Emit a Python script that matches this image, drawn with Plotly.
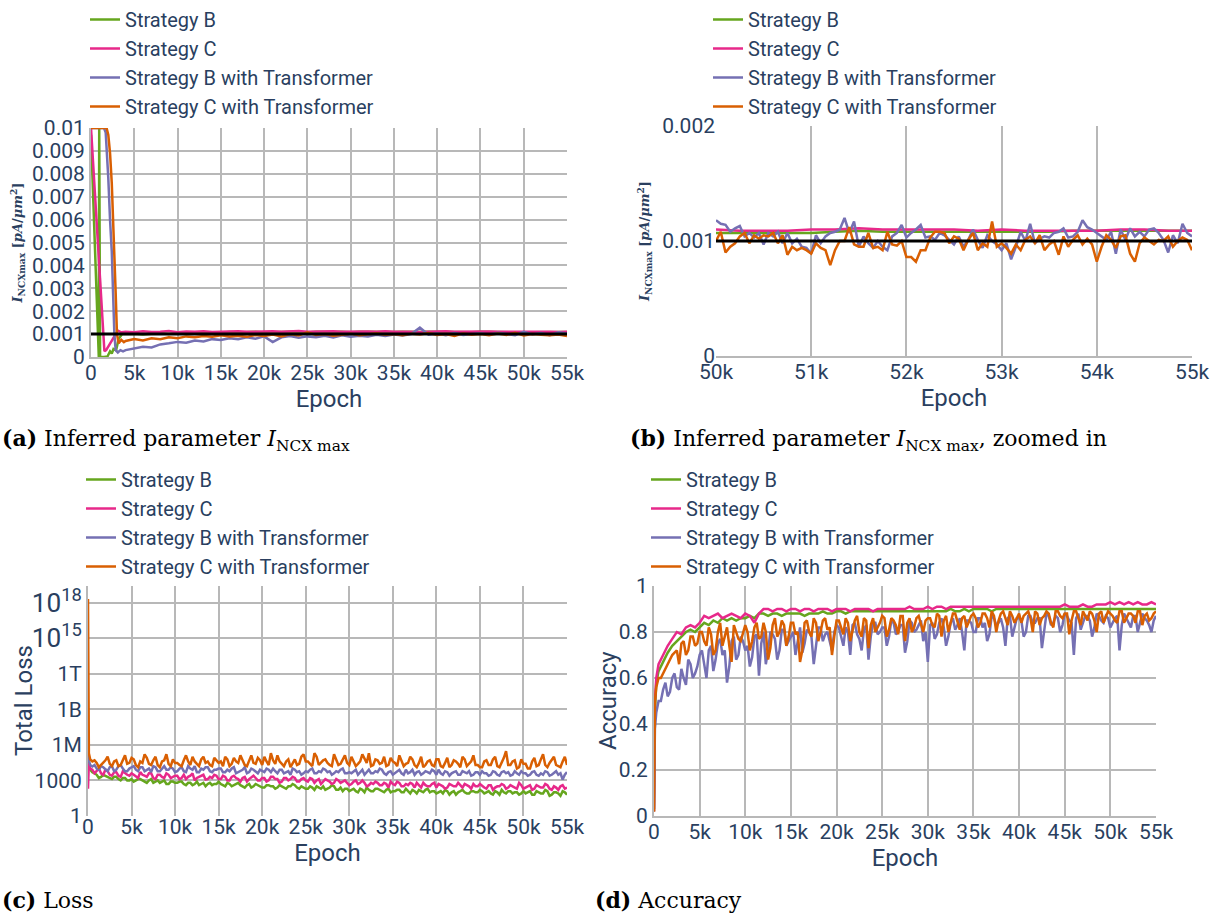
import plotly.graph_objects as go

# ---------------- data ----------------
NAMES = ["Strategy B", "Strategy C", "Strategy B with Transformer", "Strategy C with Transformer"]
COLORS = ["#66a61e", "#e7298a", "#7570b3", "#d95f02"]
TRUE_NCX = 0.001          # reference value (black line), pA/um^2
UNIT = 1e-3               # NCX arrays below are in units of 1e-3 pA/um^2

# (a) inferred parameter, full run
late_a = list(range(4000, 55001, 1000))
epoch_a_b = [0, 900, 950, 1050, 1500, 1900, 2200, 2400, 2600, 2900, 3200, 3600] + late_a
ncx_a_b = [9.7, 0.0, 10.0, 0.0, 0.0, 0.02, 0.25, 0.15, 0.35, 0.3, 0.8, 1.0,
           1.0, 1.02, 0.98, 1.03, 1.05, 1.0, 1.06, 1.04, 1.07, 1.05, 1.08, 1.06, 1.09, 1.07, 1.08, 1.1,
           1.07, 1.09, 1.08, 1.1, 1.09, 1.07, 1.1, 1.08, 1.09, 1.1, 1.08, 1.1, 1.09, 1.08, 1.1, 1.09,
           1.1, 1.08, 1.09, 1.1, 1.09, 1.08, 1.1, 1.09, 1.08, 1.1, 1.09, 1.1, 1.08, 1.09, 1.07, 1.08,
           1.08, 1.08, 1.09, 1.09]
epoch_a_c = [0, 1550, 1750, 2000, 2300, 2700, 3100, 3500] + late_a
ncx_a_c = [10.0, 0.25, 0.3, 0.45, 0.6, 0.9, 1.15, 1.08,
           1.1, 1.08, 1.12, 1.09, 1.1, 1.13, 1.08, 1.11, 1.1, 1.12, 1.09, 1.11, 1.1, 1.12, 1.1, 1.11,
           1.09, 1.12, 1.1, 1.11, 1.13, 1.1, 1.11, 1.1, 1.12, 1.1, 1.11, 1.09, 1.11, 1.1, 1.12, 1.1,
           1.11, 1.1, 1.09, 1.11, 1.1, 1.12, 1.1, 1.11, 1.09, 1.1, 1.11, 1.1, 1.09, 1.11, 1.1, 1.1,
           1.11, 1.1, 1.09, 1.1]
epoch_a_bt = [0, 1500, 1700, 1850, 2000, 2200, 2400, 2550, 2700, 2850, 3100, 3400, 3700] + late_a
ncx_a_bt = [10.0, 10.0, 9.8, 8.9, 7.8, 6.0, 4.6, 2.8, 1.0, 0.3, 0.2, 0.3, 0.25,
            0.3, 0.38, 0.45, 0.42, 0.55, 0.6, 0.66, 0.62, 0.72, 0.68, 0.78, 0.74, 0.82, 0.78, 0.86, 0.8,
            0.9, 0.65, 0.86, 0.92, 0.84, 0.9, 0.86, 0.93, 0.85, 0.95, 0.88, 0.93, 0.9, 0.97, 0.92, 0.98,
            0.94, 1.0, 1.28, 0.97, 1.02, 0.95, 1.05, 0.96, 1.0, 1.04, 0.97, 1.06, 1.0, 0.95, 1.1, 0.98,
            1.05, 0.95, 1.08, 1.02]
epoch_a_ct = [0, 1800, 2000, 2200, 2400, 2550, 2700, 2850, 3000, 3200, 3500, 3800] + late_a
ncx_a_ct = [10.0, 10.0, 9.7, 8.9, 7.6, 6.2, 4.6, 2.8, 1.0, 0.6, 0.75, 0.65,
            0.7, 0.78, 0.72, 0.82, 0.78, 0.86, 0.82, 0.9, 0.86, 0.92, 0.88, 0.95, 0.9, 0.93, 0.88, 0.96,
            0.92, 0.98, 0.9, 1.0, 0.94, 1.08, 0.96, 1.0, 0.93, 0.98, 1.02, 0.95, 1.0, 1.04, 0.97, 1.0,
            0.95, 1.02, 0.98, 1.05, 0.96, 1.0, 0.92, 1.03, 0.97, 1.0, 0.95, 1.02, 0.96, 1.06, 0.94, 1.0,
            0.97, 0.95, 0.98, 0.92]

# (b) zoom 50k-55k
epoch_b_fine = list(range(50000, 55001, 50))
epoch_b_coarse = list(range(50000, 55001, 250))
ncx_b_b = [1.07, 1.07, 1.07, 1.07, 1.07, 1.08, 1.09, 1.08, 1.08, 1.08, 1.08, 1.08, 1.08, 1.08, 1.08,
           1.09, 1.09, 1.09, 1.09, 1.09, 1.09]
ncx_b_c = [1.10, 1.09, 1.09, 1.09, 1.10, 1.10, 1.11, 1.10, 1.10, 1.10, 1.10, 1.09, 1.10, 1.09, 1.09,
           1.09, 1.09, 1.10, 1.10, 1.09, 1.09]
ncx_b_bt = [1.18, 1.15, 1.14, 1.08, 1.11, 1.13, 1.04, 1.07, 1.03, 1.07, 0.97, 1.07, 1.04, 1.08, 0.98, 1.07, 0.98, 1.02, 0.95, 0.94,
            0.89, 1.05, 0.98, 1.04, 1.07, 1.08, 1.10, 1.20, 1.07, 1.17, 0.95, 1.04, 0.98, 0.94, 1.00, 0.95, 0.92, 1.04, 1.07, 1.14,
            1.03, 1.07, 1.10, 1.14, 1.03, 1.04, 1.01, 1.07, 1.05, 1.01, 0.97, 1.04, 0.95, 1.01, 1.10, 1.01, 0.94, 1.05, 1.00, 0.97,
            0.92, 0.98, 0.84, 0.95, 1.08, 1.00, 1.15, 0.98, 1.02, 1.04, 1.03, 1.07, 1.08, 1.11, 1.03, 1.04, 1.08, 1.18, 1.12, 1.10,
            1.07, 1.04, 1.01, 1.08, 0.89, 1.10, 1.01, 1.11, 1.04, 1.08, 1.04, 1.10, 1.11, 1.07, 1.01, 0.90, 1.05, 0.98, 1.15, 1.07,
            1.04]
ncx_b_ct = [1.00, 1.08, 0.90, 0.95, 0.98, 1.04, 1.07, 0.98, 1.05, 1.02, 1.05, 1.04, 1.07, 0.98, 1.05, 0.88, 0.95, 0.92, 0.94, 0.92,
            0.89, 0.98, 0.94, 0.92, 0.79, 0.92, 1.00, 1.00, 1.12, 0.97, 0.95, 0.95, 1.07, 0.94, 0.95, 0.92, 1.08, 0.97, 0.96, 1.00,
            0.86, 0.86, 0.82, 0.92, 0.92, 1.03, 1.08, 1.08, 1.07, 0.98, 1.04, 1.02, 0.92, 1.01, 1.07, 0.92, 0.98, 0.95, 1.17, 0.95,
            0.98, 0.94, 0.89, 0.97, 0.92, 1.01, 1.04, 0.98, 1.05, 0.92, 0.97, 1.00, 0.88, 1.04, 0.95, 1.01, 1.05, 0.97, 1.02, 0.97,
            0.82, 0.95, 1.05, 1.01, 0.94, 1.04, 1.05, 0.89, 0.82, 0.98, 1.03, 1.00, 0.97, 1.01, 1.00, 1.04, 0.95, 1.00, 1.03, 1.01,
            0.92]

# (c) loss and (d) accuracy: main samples + in-between samples
epoch_cd = [0, 100, 250] + list(range(500, 55001, 500))
epoch_cd_mid = list(range(750, 55000, 500))

loss_b = [1e5, 2e4, 8e3, 5e3,
          3e3, 2e3, 2.5e3, 1.6e3, 2e3, 1.3e3, 1.6e3, 1e3, 1.3e3,
          1e3, 1.3e3, 800, 1e3, 630, 1e3, 800, 500, 800, 630,
          800, 500, 630, 400, 800, 500, 320, 630, 500, 800,
          400, 630, 320, 500, 400, 250, 500, 320, 400, 250,
          400, 320, 200, 400, 250, 320, 500, 250, 320, 200,
          320, 160, 250, 320, 200, 400, 160, 250, 200, 125,
          200, 100, 160, 250, 125, 200, 160, 100, 200, 125,
          160, 100, 200, 80, 125, 160, 100, 200, 125, 80,
          125, 160, 63, 125, 100, 160, 80, 125, 100, 160,
          80, 125, 63, 100, 160, 80, 125, 100, 63, 125,
          100, 63, 125, 80, 160, 50, 100, 80, 125, 63]
loss_b_mid = [4e3, 1.6e3, 3e3, 2e3, 1.3e3, 2e3, 1e3, 1.6e3, 1e3,
              800, 1.3e3, 1e3, 630, 1.3e3, 800, 630, 1e3, 500, 800,
              630, 800, 400, 630, 500, 400, 630, 500, 400, 500,
              500, 320, 500, 400, 630, 320, 400, 250, 500, 320,
              250, 400, 320, 250, 320, 200, 320, 400, 200, 250,
              200, 250, 320, 200, 160, 250, 320, 160, 125, 200,
              160, 125, 200, 100, 160, 125, 200, 125, 160, 100,
              125, 160, 100, 125, 160, 80, 125, 160, 100, 125,
              100, 80, 125, 100, 63, 125, 100, 80, 125, 100,
              125, 100, 80, 125, 63, 100, 125, 80, 100, 80,
              80, 125, 63, 100, 80, 125, 63, 100, 50, 100]
loss_c = [200, 3e4, 1e4, 8e3,
          6e3, 4e3, 8e3, 3e3, 5e3, 2.5e3, 6e3, 3e3, 4e3,
          2e3, 5e3, 2.5e3, 4e3, 1.6e3, 3e3, 2e3, 4e3, 1.6e3, 2.5e3,
          1.3e3, 3e3, 2e3, 4e3, 1.6e3, 2.5e3, 1.2e3, 2e3, 3e3, 1.3e3,
          2.5e3, 1e3, 2e3, 1.6e3, 800, 2e3, 1.3e3, 2.5e3, 1e3, 1.6e3,
          800, 2e3, 1.3e3, 630, 1.6e3, 1e3, 2e3, 800, 1.3e3, 1e3,
          1.6e3, 630, 1.3e3, 800, 1e3, 500, 1.3e3, 630, 1e3, 400,
          800, 500, 1e3, 320, 630, 800, 400, 630, 250, 500,
          800, 320, 500, 630, 250, 400, 630, 320, 500, 250,
          400, 200, 500, 320, 630, 250, 400, 200, 320, 500,
          250, 400, 160, 320, 500, 200, 400, 250, 630, 200,
          320, 160, 400, 250, 500, 200, 320, 160, 400, 250]
loss_c_mid = [4e3, 1e4, 3e3, 6e3, 2.5e3, 5e3, 2e3, 4e3, 2.5e3,
              3e3, 1.6e3, 3e3, 2e3, 4e3, 1.3e3, 3e3, 1.6e3, 3e3, 2e3,
              2.5e3, 1.6e3, 1.3e3, 2.5e3, 1e3, 2e3, 3e3, 1.3e3, 1.6e3, 2.5e3,
              1.3e3, 2e3, 1e3, 2.5e3, 1.3e3, 1.6e3, 800, 2e3, 1.6e3, 1e3,
              1.6e3, 1e3, 2e3, 1.3e3, 800, 1.6e3, 1.3e3, 1.6e3, 800, 1.6e3,
              800, 1.3e3, 1e3, 500, 1.3e3, 800, 630, 1e3, 800, 630,
              500, 1e3, 630, 630, 400, 500, 630, 400, 500, 800,
              400, 630, 320, 400, 500, 630, 250, 400, 320, 630,
              500, 320, 250, 400, 320, 400, 500, 320, 500, 320,
              320, 200, 400, 250, 320, 400, 250, 320, 200, 400,
              250, 400, 200, 320, 250, 400, 160, 250, 320, 200]
loss_bt = [3e5, 5e4, 2e4, 1.5e4,
           1e4, 1.6e4, 8e3, 1.3e4, 6e3, 1.6e4, 1e4, 6e3, 1.3e4,
           8e3, 1.3e4, 6e3, 1e4, 1.6e4, 6e3, 1e4, 8e3, 1.3e4, 5e3,
           1e4, 6e3, 1.6e4, 8e3, 5e3, 1e4, 1.3e4, 6e3, 8e3, 1e4,
           5e3, 8e3, 1e4, 4e3, 6e3, 1.3e4, 5e3, 8e3, 4e3, 6e3,
           1e4, 5e3, 6e3, 8e3, 4e3, 6e3, 1e4, 5e3, 3e3, 6e3,
           8e3, 4e3, 6e3, 1e4, 5e3, 3e3, 6e3, 8e3, 4e3, 5e3,
           6e3, 3e3, 8e3, 5e3, 4e3, 6e3, 1e4, 4e3, 5e3, 3e3,
           6e3, 4e3, 8e3, 5e3, 3e3, 6e3, 4e3, 5e3, 8e3, 3e3,
           4e3, 6e3, 2.5e3, 5e3, 3e3, 6e3, 4e3, 2.5e3, 5e3, 3e3,
           4e3, 2.5e3, 6e3, 3e3, 5e3, 4e3, 2.5e3, 6e3, 3e3, 4e3,
           2.5e3, 5e3, 3e3, 4e3, 6e3, 2.5e3, 4e3, 3e3, 1.2e3, 5e3]
loss_bt_mid = [2e4, 8e3, 1.3e4, 6e3, 1.6e4, 8e3, 2e4, 6e3, 1e4,
               1.6e4, 6e3, 1.3e4, 8e3, 5e3, 1.3e4, 6e3, 1.6e4, 8e3, 1e4,
               6e3, 1.3e4, 5e3, 1e4, 1.6e4, 5e3, 8e3, 1.3e4, 5e3, 8e3,
               1e4, 5e3, 6e3, 1.3e4, 5e3, 8e3, 4e3, 1e4, 6e3, 8e3,
               5e3, 8e3, 1e4, 4e3, 8e3, 5e3, 3e3, 8e3, 6e3, 4e3,
               5e3, 1e4, 4e3, 5e3, 8e3, 6e3, 4e3, 5e3, 1e4, 4e3,
               4e3, 8e3, 5e3, 3e3, 8e3, 4e3, 5e3, 8e3, 3e3, 6e3,
               4e3, 8e3, 3e3, 4e3, 8e3, 5e3, 3e3, 6e3, 4e3, 6e3,
               8e3, 3e3, 5e3, 4e3, 6e3, 3e3, 5e3, 6e3, 3e3, 5e3,
               6e3, 4e3, 3e3, 5e3, 2.5e3, 6e3, 5e3, 3e3, 4e3, 6e3,
               4e3, 3e3, 6e3, 2.5e3, 3e3, 5e3, 3e3, 6e3, 4e3, 3e3]
loss_ct = [2e18, 2e5, 6e4, 4e4,
           3e4, 2e4, 5e4, 2.5e4, 4e4, 1.6e4, 6e4, 2.5e4, 8e4,
           2e4, 4e4, 1.6e5, 2.5e4, 5e4, 2e4, 4e4, 1.6e5, 1.6e4, 3e4,
           2e4, 5e4, 4e4, 1e5, 2.5e4, 6e4, 3e4, 2e4, 8e4, 3e4,
           1.6e4, 6e4, 2.5e4, 4e4, 1.3e5, 2e4, 5e4, 3e4, 8e4, 2e4,
           4e4, 2e5, 2.5e4, 4e4, 1.6e4, 6e4, 3e4, 2e4, 1e5, 4e4,
           2.5e4, 2e5, 2e4, 5e4, 3e4, 1.6e4, 6e4, 2.5e4, 1.3e5, 2e4,
           4e4, 2.5e4, 1.6e5, 3e4, 1.6e4, 6e4, 2.5e4, 1e5, 2e4, 4e4,
           1.6e4, 5e4, 2.5e4, 1e5, 2e4, 3e4, 1.3e4, 4e4, 2e4, 6e4,
           1.6e4, 3e4, 1.3e4, 5e4, 2.5e4, 1e5, 1.6e4, 4e4, 2e4, 1.3e4,
           4e4, 2e4, 6e4, 1.6e4, 3e4, 3e5, 2e4, 5e4, 1.3e4, 2.5e4,
           1e4, 4e4, 1.6e4, 6e4, 2e4, 3e4, 1e5, 1.6e4, 4e4, 2e4]
loss_ct_mid = [5e4, 1.3e4, 3e4, 1e5, 1.6e4, 5e4, 2e4, 1.3e5, 3e4,
               6e4, 1.3e4, 3e4, 8e4, 2e4, 1e5, 1.3e4, 5e4, 2.5e4, 6e4,
               3e4, 1.6e4, 1.3e5, 2e4, 4e4, 1.6e4, 1e5, 4e4, 1.6e4, 5e4,
               4e4, 1e5, 1.6e4, 8e4, 3e4, 5e4, 1.6e4, 1.3e5, 2.5e4, 5e4,
               1e5, 2e4, 5e4, 1.3e5, 2.5e4, 4e4, 1.3e4, 6e4, 2.5e4, 1.6e5,
               4e4, 1.6e4, 1e5, 3e4, 6e4, 2e4, 1.6e5, 2e4, 5e4, 3e4,
               1e5, 1.6e4, 4e4, 6e4, 2e5, 2e4, 5e4, 3e4, 1.6e4, 8e4,
               3e4, 1.3e5, 1.6e4, 3e4, 6e4, 1.3e4, 1e5, 2e4, 5e4, 1.6e4,
               6e4, 1.3e4, 8e4, 2e4, 4e4, 1.3e4, 6e4, 2.5e4, 1.3e5, 2e4,
               1.3e4, 5e4, 2e4, 1e5, 1.3e4, 8e4, 2e4, 4e4, 1e4, 6e4,
               2.5e4, 1e4, 8e4, 2e4, 1.6e5, 1.3e4, 5e4, 2e4, 1.3e4, 1e5]

acc_b = [0.02, 0.45, 0.58, 0.63,
         .67, .71, .74, .76, .78, .80, .81, .80, .82,
         .84, .83, .85, .84, .86, .85, .86, .85, .86, .86,
         .87, .86, .88, .88, .87, .88, .88, .87, .88, .88,
         .88, .88, .87, .88, .88, .88, .89, .88, .88, .89,
         .89, .88, .89, .89, .89, .89, .89, .89, .89, .89,
         .89, .89, .89, .89, .89, .89, .89, .89, .89, .89,
         .89, .89, .89, .89, .90, .89, .89, .90, .89, .90,
         .90, .90, .90, .89, .90, .90, .90, .90, .90, .90,
         .90, .90, .90, .90, .90, .90, .90, .90, .90, .90,
         .90, .90, .90, .90, .90, .90, .90, .90, .90, .90,
         .90, .90, .90, .90, .90, .90, .90, .90, .90, .90]
acc_c = [0.02, 0.50, 0.60, 0.66,
         .70, .74, .77, .80, .79, .82, .83, .82, .84,
         .87, .86, .87, .88, .86, .87, .88, .87, .86, .88,
         .87, .84, .88, .90, .90, .89, .90, .90, .89, .90,
         .90, .89, .90, .90, .89, .90, .90, .90, .89, .90,
         .90, .90, .89, .90, .90, .90, .90, .89, .90, .90,
         .90, .90, .90, .90, .90, .91, .90, .90, .90, .91,
         .90, .91, .91, .90, .91, .91, .91, .91, .91, .91,
         .91, .91, .91, .91, .91, .91, .91, .91, .91, .91,
         .91, .91, .91, .91, .91, .91, .91, .91, .91, .92,
         .91, .91, .91, .92, .91, .91, .92, .92, .92, .93,
         .92, .93, .92, .93, .92, .93, .92, .92, .93, .92]
acc_bt = [0.03, 0.38, 0.45, 0.50,
          .55, .52, .60, .56, .64, .57, .66, .62, .70,
          .66, .72, .63, .75, .70, .58, .76, .68, .78, .72,
          .65, .78, .61, .80, .72, .79, .68, .81, .74, .78,
          .70, .82, .75, .80, .66, .82, .76, .80, .72, .83,
          .78, .82, .70, .84, .77, .81, .68, .84, .79, .82,
          .74, .85, .79, .83, .71, .85, .80, .83, .76, .67,
          .84, .79, .86, .74, .84, .81, .86, .72, .85, .80,
          .86, .82, .76, .87, .83, .86, .74, .87, .82, .86,
          .78, .87, .84, .86, .73, .88, .83, .87, .80, .88,
          .85, .70, .88, .84, .87, .78, .88, .85, .87, .82,
          .86, .72, .88, .84, .87, .80, .88, .85, .80, .87]
acc_bt_mid = [.50, .58, .54, .62, .55, .60, .68, .60, .65,
              .72, .60, .74, .68, .77, .72, .65, .78, .70, .76,
              .74, .69, .79, .75, .66, .80, .77, .72, .81, .76,
              .80, .76, .71, .81, .78, .74, .82, .79, .76, .80,
              .82, .74, .80, .83, .79, .72, .83, .78, .84, .80,
              .82, .78, .84, .80, .83, .76, .84, .81, .85, .80,
              .83, .77, .84, .82, .78, .86, .83, .80, .85, .84,
              .80, .86, .84, .79, .86, .84, .82, .86, .78, .86,
              .85, .80, .87, .84, .86, .81, .87, .84, .86, .83,
              .87, .84, .86, .81, .87, .85, .82, .87, .84, .86,
              .84, .87, .83, .86, .82, .87, .84, .86, .83, .85]
acc_ct = [0.02, 0.50, 0.56, 0.60,
          .62, .66, .70, .72, .75, .70, .78, .74, .80,
          .76, .82, .70, .80, .74, .82, .67, .80, .76, .83,
          .72, .82, .77, .84, .68, .83, .78, .85, .74, .84,
          .79, .67, .84, .80, .86, .76, .85, .81, .70, .85,
          .82, .86, .76, .85, .80, .86, .73, .86, .82, .87,
          .78, .86, .83, .87, .76, .86, .82, .87, .80, .86,
          .83, .88, .78, .87, .84, .88, .81, .87, .85, .88,
          .82, .88, .86, .89, .80, .88, .86, .89, .84, .88,
          .87, .89, .80, .88, .86, .89, .84, .89, .87, .88,
          .79, .89, .86, .89, .85, .88, .80, .89, .87, .88,
          .85, .89, .84, .88, .87, .89, .83, .88, .86, .89]
acc_ct_mid = [.60, .64, .68, .71, .66, .76, .72, .78, .75,
              .80, .74, .79, .72, .84, .78, .74, .83, .77, .80,
              .80, .76, .84, .78, .80, .73, .86, .80, .83, .78,
              .84, .80, .72, .85, .78, .84, .80, .86, .82, .78,
              .85, .79, .84, .81, .87, .78, .85, .83, .80, .84,
              .86, .81, .85, .79, .87, .84, .80, .86, .83, .85,
              .86, .82, .87, .85, .80, .88, .84, .86, .82, .87,
              .86, .84, .88, .82, .87, .85, .89, .83, .87, .86,
              .84, .88, .86, .89, .83, .87, .88, .82, .89, .86,
              .88, .85, .89, .83, .87, .89, .85, .88, .84, .89,
              .87, .84, .89, .86, .88, .84, .89, .87, .85, .88]


def merged(e1, v1, e2, v2):
    """Combine the main and in-between samples of one series in epoch order."""
    pts = sorted(zip(list(e1) + list(e2), list(v1) + list(v2)))
    return [p[0] for p in pts], [p[1] for p in pts]


# ---------------- figure ----------------
W, H = 1212, 913
FONT = "Roboto"
TXT = "#2a3f5f"
GRID = "#b8b8b8"

def px_x(a, b):
    return [a / W, b / W]

def px_y(top, bottom):
    return [1 - bottom / H, 1 - top / H]

fig = go.Figure()

def add(x, y, i, xa, ya, leg):
    fig.add_trace(go.Scatter(x=x, y=y, mode="lines", name=NAMES[i],
                             line=dict(color=COLORS[i], width=2.5),
                             xaxis=xa, yaxis=ya, legend=leg))

sc = lambda arr: [v * UNIT for v in arr]
add(epoch_a_b, sc(ncx_a_b), 0, "x", "y", "legend")
add(epoch_a_c, sc(ncx_a_c), 1, "x", "y", "legend")
add(epoch_a_bt, sc(ncx_a_bt), 2, "x", "y", "legend")
add(epoch_a_ct, sc(ncx_a_ct), 3, "x", "y", "legend")

add(epoch_b_coarse, sc(ncx_b_b), 0, "x2", "y2", "legend2")
add(epoch_b_coarse, sc(ncx_b_c), 1, "x2", "y2", "legend2")
add(epoch_b_fine, sc(ncx_b_bt), 2, "x2", "y2", "legend2")
add(epoch_b_fine, sc(ncx_b_ct), 3, "x2", "y2", "legend2")

add(*merged(epoch_cd, loss_b, epoch_cd_mid, loss_b_mid), 0, "x3", "y3", "legend3")
add(*merged(epoch_cd, loss_c, epoch_cd_mid, loss_c_mid), 1, "x3", "y3", "legend3")
add(*merged(epoch_cd, loss_bt, epoch_cd_mid, loss_bt_mid), 2, "x3", "y3", "legend3")
add(*merged(epoch_cd, loss_ct, epoch_cd_mid, loss_ct_mid), 3, "x3", "y3", "legend3")

add(epoch_cd, acc_b, 0, "x4", "y4", "legend4")
add(epoch_cd, acc_c, 1, "x4", "y4", "legend4")
add(*merged(epoch_cd, acc_bt, epoch_cd_mid, acc_bt_mid), 2, "x4", "y4", "legend4")
add(*merged(epoch_cd, acc_ct, epoch_cd_mid, acc_ct_mid), 3, "x4", "y4", "legend4")

# true value lines
for xr, yr in (("x domain", "y"), ("x2 domain", "y2")):
    fig.add_shape(type="line", xref=xr, yref=yr, x0=0, x1=1, y0=TRUE_NCX, y1=TRUE_NCX,
                  line=dict(color="black", width=3))

tickf = dict(family=FONT, size=21, color=TXT)
titf = dict(family=FONT, size=24, color=TXT)

common_x = dict(showgrid=True, gridcolor=GRID, gridwidth=2, zeroline=False, ticks="",
                tickfont=tickf, ticklabelstandoff=-4,
                title=dict(text="Epoch", font=titf, standoff=2))
common_y = dict(showgrid=True, gridcolor=GRID, gridwidth=2, zeroline=False, ticks="",
                tickfont=tickf)

ncx_title = "<b><i>I</i><sub>NCXmax</sub> [<i>pA</i>/<i>μm</i><sup>2</sup>]</b>"
ncx_font = dict(family="DejaVu Serif", size=13, color=TXT)

fig.update_layout(
    width=W, height=H, margin=dict(l=0, r=0, t=0, b=0, autoexpand=False),
    paper_bgcolor="white", plot_bgcolor="white",
    font=dict(family=FONT, color=TXT),
    xaxis=dict(domain=px_x(91, 567), anchor="y", range=[0, 55000], dtick=5000,
               showline=True, linecolor=GRID, linewidth=2, **common_x),
    yaxis=dict(domain=px_y(128, 357), anchor="x", range=[0, 0.01], dtick=0.001,
               showline=True, linecolor=GRID, linewidth=2,
               title=dict(text=ncx_title, font=ncx_font, standoff=6),
               **common_y),
    xaxis2=dict(domain=px_x(716, 1192), anchor="y2", range=[50000, 55000], dtick=1000,
                showline=True, linecolor=GRID, linewidth=2, **common_x),
    yaxis2=dict(domain=px_y(126, 356), anchor="x2", range=[0, 0.002], dtick=0.001,
                showgrid=False, zeroline=False, ticks="", tickfont=tickf,
                title=dict(text=ncx_title, font=ncx_font, standoff=9)),
    xaxis3=dict(domain=px_x(88, 567), anchor="y3", range=[0, 55000], dtick=5000, **common_x),
    yaxis3=dict(domain=px_y(586, 816), anchor="x3", type="log", range=[0, 19.4], dtick=3,
                showline=True, linecolor=GRID, linewidth=2, **common_y),
    xaxis4=dict(domain=px_x(654, 1156), anchor="y4", range=[0, 55000], dtick=5000,
                showline=True, linecolor=GRID, linewidth=2, **common_x),
    yaxis4=dict(domain=px_y(586, 816), anchor="x4", range=[0, 1], dtick=0.2,
                showline=True, linecolor=GRID, linewidth=2, **common_y),
)

# y-axis titles of (c) and (d), placed beside their tick labels
for x, text in ((24, "Total Loss"), (608, "Accuracy")):
    fig.add_annotation(text=text, x=x / W, y=1 - 701 / H, xref="paper", yref="paper",
                       textangle=-90, xanchor="center", yanchor="middle",
                       showarrow=False, font=titf)

leg_common = dict(font=dict(family=FONT, size=20, color=TXT), bgcolor="rgba(0,0,0,0)",
                  xanchor="left", yanchor="top", tracegroupgap=0)
fig.update_layout(
    legend=dict(x=85 / W, y=1.0, **leg_common),
    legend2=dict(x=708 / W, y=1.0, **leg_common),
    legend3=dict(x=81 / W, y=1 - 460 / H, **leg_common),
    legend4=dict(x=646 / W, y=1 - 460 / H, **leg_common),
)

capf = dict(family="DejaVu Serif", size=22, color="black")
caps = [
    (0, 440, "<b>(a)</b> Inferred parameter <i>I</i><sub>NCX max</sub>"),
    (628, 440, "<b>(b)</b> Inferred parameter <i>I</i><sub>NCX max</sub>, zoomed in"),
    (0, 900, "<b>(c)</b> Loss"),
    (593, 900, "<b>(d)</b> Accuracy"),
]
for x, y, t in caps:
    fig.add_annotation(text=t, x=x / W, y=1 - y / H, xref="paper", yref="paper",
                       xanchor="left", yanchor="middle", showarrow=False, font=capf)

fig.write_html("out.html")
